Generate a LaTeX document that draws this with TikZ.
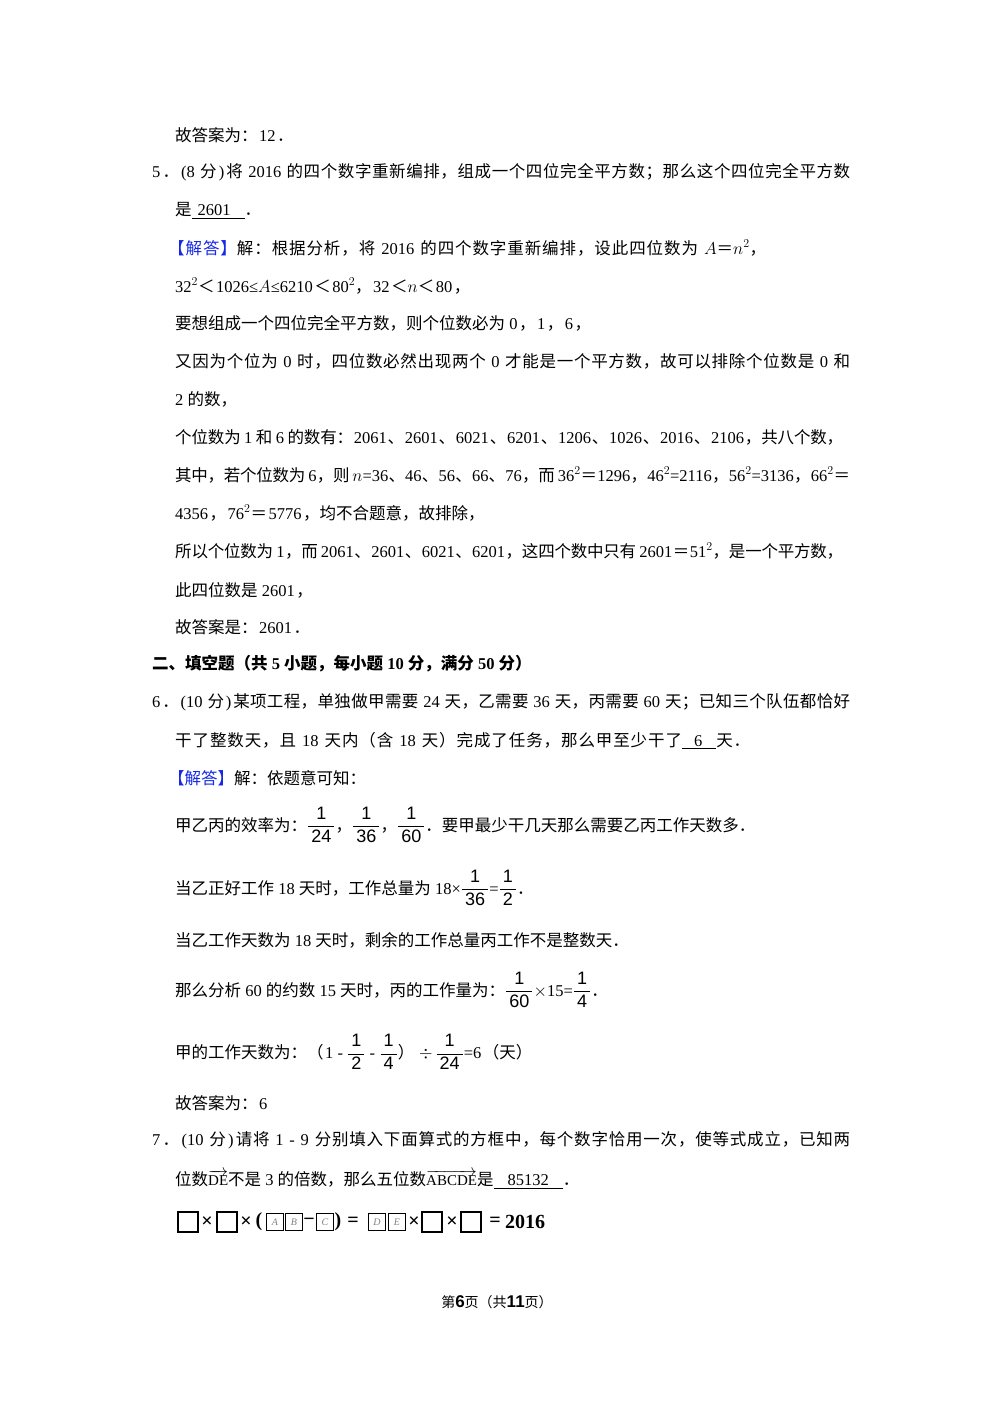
\documentclass[tikz,border=0pt]{standalone}
\usepackage{fontspec}
\usepackage{amsmath}
\setmainfont{Liberation Serif}
\newfontfamily\cjk{Noto Sans CJK SC}
\newfontfamily\sfd{Liberation Sans}
\XeTeXinterchartokenstate=1
\newXeTeXintercharclass\cjkclass
\makeatletter
\count@="3000 \loop \XeTeXcharclass\count@=\cjkclass \advance\count@ 1 \ifnum\count@<"3040 \repeat
\count@="4E00 \loop \XeTeXcharclass\count@=\cjkclass \advance\count@ 1 \ifnum\count@<"A000 \repeat
\count@="FF00 \loop \XeTeXcharclass\count@=\cjkclass \advance\count@ 1 \ifnum\count@<"FFF0 \repeat
\makeatother
\XeTeXinterchartoks 0 \cjkclass = {\hskip 1.5pt plus 1pt minus 1.5pt\cjk}
\XeTeXinterchartoks 4095 \cjkclass = {\cjk}
\XeTeXinterchartoks \cjkclass 0 = {\rmfamily\hskip 1.5pt plus 1pt minus 1.5pt}
\XeTeXinterchartoks \cjkclass 4095 = {\rmfamily}
\XeTeXinterchartoks \cjkclass \cjkclass = {\hskip 0pt plus 1pt minus 0.3pt}
\definecolor{jd}{RGB}{20,40,230}
\tikzset{ln/.style={anchor=west,inner sep=0pt,font=\fontsize{16.5}{18}\selectfont},
 bx/.style={draw,line width=1.3pt,minimum size=20pt,inner sep=0pt,anchor=center},
 lb/.style={draw,line width=0.8pt,minimum size=17pt,inner sep=0pt,font=\itshape\fontsize{10}{10}\selectfont,text=gray}}
\newcommand{\jdm}{{\color{jd}【解答】}}
\newcommand{\fl}[2]{\makebox[#1pt][s]{#2}}
\newcommand{\fr}[2]{$\genfrac{}{}{0.6pt}{0}{\text{\sfd\fontsize{18}{18}\selectfont\,#1\,}}{\text{\sfd\fontsize{18}{18}\selectfont\,#2\,}}$}
\newcommand{\ov}[1]{$\overrightarrow{\rule{0pt}{9pt}\smash{\text{\fontsize{15}{15}\selectfont #1}}}$}
\begin{document}
\begin{tikzpicture}[x=1pt,y=-1pt]
\useasboundingbox (0,0) rectangle (1000,1415);
\node[ln] (l1) at (175,135) {故答案为：12．};
\node[ln] (l2) at (152,172) {\fl{698}{5．(8 分)将 2016 的四个数字重新编排，组成一个四位完全平方数；那么这个四位完全平方数}};
\node[ln] (l3) at (175,211) {是\underline{\hspace{6pt}2601\hspace{14pt}}．};
\node[ln] (l4) at (168,248) {\fl{598}{\jdm 解：根据分析，将 2016 的四个数字重新编排，设此四位数为 $A$＝$n^2$，}};
\node[ln] (l5) at (175,286) {32$^2$＜1026≤$A$≤6210＜80$^2$，32＜$n$＜80，};
\node[ln] (l6) at (175,323) {要想组成一个四位完全平方数，则个位数必为 0，1，6，};
\node[ln] (l7) at (175,361) {\fl{675}{又因为个位为 0 时，四位数必然出现两个 0 才能是一个平方数，故可以排除个位数是 0 和}};
\node[ln] (l8) at (175,399) {2 的数，};
\node[ln] (l9) at (175,437) {\fl{668}{个位数为 1 和 6 的数有：2061、2601、6021、6201、1206、1026、2016、2106，共八个数，}};
\node[ln] (l10) at (175,475) {\fl{675}{其中，若个位数为 6，则 $n$=36、46、56、66、76，而 36$^2$＝1296，46$^2$=2116，56$^2$=3136，66$^2$＝}};
\node[ln] (l11) at (175,513) {4356，76$^2$＝5776，均不合题意，故排除，};
\node[ln] (l12) at (175,551) {\fl{668}{所以个位数为 1，而 2061、2601、6021、6201，这四个数中只有 2601＝51$^2$，是一个平方数，}};
\node[ln] (l13) at (175,590) {此四位数是 2601，};
\node[ln] (l14) at (175,627) {故答案是：2601．};
\node[ln,font=\bfseries\fontsize{16.5}{18}\selectfont] (h) at (152,664) {二、填空题（共 5 小题，每小题 10 分，满分 50 分）};
\node[ln] (l15) at (152,702) {\fl{698}{6．(10 分)某项工程，单独做甲需要 24 天，乙需要 36 天，丙需要 60 天；已知三个队伍都恰好}};
\node[ln] (l16) at (175,741) {\fl{575}{干了整数天，且 18 天内（含 18 天）完成了任务，那么甲至少干了\underline{\hspace{12pt}6\hspace{14pt}}天．}};
\node[ln] (l17) at (168,778) {\jdm 解：依题意可知：};
\node[ln] (l18) at (175,825) {甲乙丙的效率为：\fr{1}{24}，\fr{1}{36}，\fr{1}{60}．要甲最少干几天那么需要乙丙工作天数多．};
\node[ln] (l19) at (175,888) {当乙正好工作 18 天时，工作总量为 18×\fr{1}{36}=\fr{1}{2}．};
\node[ln] (l20) at (175,940) {当乙工作天数为 18 天时，剩余的工作总量丙工作不是整数天．};
\node[ln] (l21) at (175,990) {那么分析 60 的约数 15 天时，丙的工作量为：\fr{1}{60}$\times$15=\fr{1}{4}．};
\node[ln] (l22) at (175,1052) {甲的工作天数为：（1 - \fr{1}{2} - \fr{1}{4}）$\;\div\,$\fr{1}{24}=6（天）};
\node[ln] (l23) at (175,1103) {故答案为：6};
\node[ln] (l24) at (152,1140) {\fl{698}{7．(10 分)请将 1 - 9 分别填入下面算式的方框中，每个数字恰用一次，使等式成立，已知两}};
\node[ln] (l25) at (175,1180) {位数\ov{DE}不是 3 的倍数，那么五位数\ov{ABCDE}是\underline{\hspace{14pt}85132\hspace{14pt}}．};
% equation
\tikzset{op/.style={inner sep=0pt,font=\bfseries\fontsize{20}{20}\selectfont}}
\node[bx] (b1) at (188,1222) {};
\node[op] (m1) at (207,1222) {×};
\node[bx] (b2) at (227,1222) {};
\node[op] (m2) at (246,1222) {×};
\node[op] (p1) at (259,1222) {(};
\node[lb] (ba) at (275,1222) {A};
\node[lb] (bb) at (294,1222) {B};
\node[op] (mi) at (309,1222) {−};
\node[lb] (bc) at (325,1222) {C};
\node[op] (p2) at (338,1222) {)};
\node[op] (e1) at (353,1222) {=};
\node[lb] (bd) at (377,1222) {D};
\node[lb] (be) at (397,1222) {E};
\node[op] (m3) at (414,1222) {×};
\node[bx] (b3) at (432,1222) {};
\node[op] (m4) at (452,1222) {×};
\node[bx] (b4) at (471,1222) {};
\node[op] (e2) at (495,1222) {=};
\node[op,anchor=west] (r) at (505,1222) {2016};
\node[inner sep=0pt,font=\fontsize{14}{16}\selectfont] (f) at (497,1302) {第{\sfd\bfseries\fontsize{17}{17}\selectfont 6}页（共{\sfd\bfseries\fontsize{17}{17}\selectfont 11}页）};
\end{tikzpicture}
\end{document}
